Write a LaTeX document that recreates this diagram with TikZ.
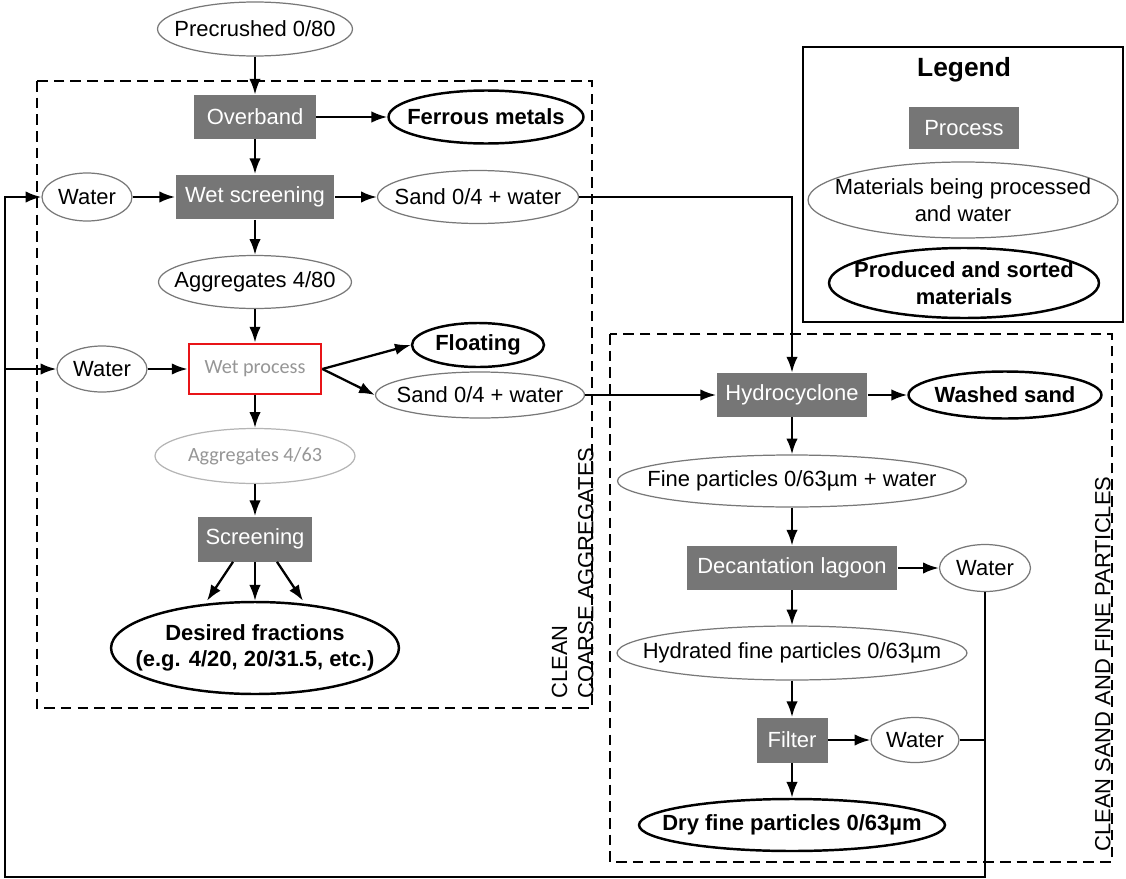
\documentclass[tikz,border=0pt]{standalone}
\usepackage{fontspec}
\setmainfont{Liberation Sans}
\newfontfamily\calibfont{Carlito}
\usetikzlibrary{arrows.meta,shapes.geometric}

\definecolor{procgray}{RGB}{118,118,118}
\definecolor{matgray}{RGB}{120,120,120}
\definecolor{fadedgray}{RGB}{150,150,150}
\definecolor{boxred}{RGB}{232,20,24}

\tikzset{
  base/.style={font=\fontsize{12.5}{15}\selectfont, align=center},
  proc/.style={base, rectangle, fill=procgray, text=white, inner sep=0pt},
  mat/.style={base, ellipse, draw=matgray, line width=0.7pt, fill=white,
    inner xsep=-1.5em, inner ysep=0pt},
  prod/.style={mat, draw=black, line width=1.4pt,
    font=\fontsize{12.5}{15}\selectfont\bfseries},
  arr/.style={-{Latex[length=9pt,width=6.5pt]}, line width=1.3pt},
  zone/.style={dash pattern=on 6pt off 3.5pt, line width=1.2pt},
}

\begin{document}
\begin{tikzpicture}[x=0.02cm,y=-0.02cm]
  % Coordinates are pixels of the layout, y pointing down.
  \useasboundingbox (0,0) rectangle (1126,879);

  % Zones.
  \draw[zone] (37,81) rectangle (592,708);
  \draw[zone] (610,334) rectangle (1112,862);
  \node[base,rotate=90,anchor=south west,inner sep=0pt,align=left] (lblcoarse)
    at (594,699) {CLEAN\\COARSE AGGREGATES};
  \node[base,rotate=90,anchor=south west,inner sep=0pt] (lblsand)
    at (1111,852) {CLEAN SAND AND FINE PARTICLES};

  % Legend.
  \draw[line width=1.3pt] (803,47) rectangle (1123,322);
  \node[base,font=\fontsize{15}{18}\selectfont\bfseries] (legtitle) at (964,70) {Legend};
  \node[proc,minimum width=2.2cm,minimum height=0.84cm] (lproc) at (964,128) {Process};
  \node[mat,minimum width=6.2cm,minimum height=1.52cm] (lmat) at (963,200)
    {Materials being processed\\and water};
  \node[prod,minimum width=5.4cm,minimum height=1.4cm] (lprod) at (964,283)
    {Produced and sorted\\materials};

  % Coarse aggregates line.
  \node[mat,minimum width=3.9cm,minimum height=1.08cm] (pre) at (255,29) {Precrushed 0/80};
  \node[proc,minimum width=2.44cm,minimum height=0.88cm] (over) at (255,117) {Overband};
  \node[prod,minimum width=3.9cm,minimum height=1.06cm] (ferr) at (486,117) {Ferrous metals};
  \node[mat,minimum width=1.8cm,minimum height=0.96cm] (water1) at (87,197) {Water};
  \node[proc,minimum width=3.18cm,minimum height=0.9cm] (wscr) at (255,197) {Wet screening};
  \node[mat,minimum width=4.02cm,minimum height=1.06cm] (sand1) at (478,197) {Sand 0/4 + water};
  \node[mat,minimum width=3.86cm,minimum height=1.06cm] (agg80) at (255,282) {Aggregates 4/80};
  \node[mat,minimum width=1.8cm,minimum height=0.92cm] (water2) at (102,369) {Water};
  \node[base,rectangle,draw=boxred,line width=1.6pt,fill=white,text=fadedgray,inner sep=0pt,
    font=\calibfont\fontsize{11.5}{14}\selectfont,minimum width=2.64cm,minimum height=1cm]
    (wproc) at (255,369) {Wet process};
  \node[prod,minimum width=2.64cm,minimum height=0.88cm] (float) at (478,345) {Floating};
  \node[mat,minimum width=4.18cm,minimum height=0.92cm] (sand2) at (480,395) {Sand 0/4 + water};
  \node[mat,draw=fadedgray!70,text=fadedgray,font=\calibfont\fontsize{11.5}{14}\selectfont,
    minimum width=4cm,minimum height=1.1cm] (agg63) at (255,456) {Aggregates 4/63};
  \node[proc,minimum width=2.28cm,minimum height=0.9cm] (scr) at (255,539) {Screening};
  \node[prod,minimum width=5.76cm,minimum height=1.84cm] (frac) at (255,648)
    {Desired fractions\\(e.g. 4/20, 20/31.5, etc.)};

  % Sand and fine particles line.
  \node[proc,minimum width=3.02cm,minimum height=0.88cm] (hydro) at (792,395) {Hydrocyclone};
  \node[prod,minimum width=3.86cm,minimum height=0.94cm] (wsand) at (1005,395) {Washed sand};
  \node[mat,minimum width=6.98cm,minimum height=1.04cm] (fine) at (792,481)
    {Fine particles 0/63µm + water};
  \node[proc,minimum width=4.22cm,minimum height=0.88cm] (decant) at (792,568) {Decantation lagoon};
  \node[mat,minimum width=1.82cm,minimum height=0.94cm] (water3) at (985,568) {Water};
  \node[mat,minimum width=7cm,minimum height=1.08cm] (hydr) at (792,653)
    {Hydrated fine particles 0/63µm};
  \node[proc,minimum width=1.42cm,minimum height=0.9cm] (filt) at (792,740) {Filter};
  \node[mat,minimum width=1.76cm,minimum height=0.9cm] (water4) at (915,740) {Water};
  \node[prod,minimum width=6.12cm,minimum height=1.04cm] (dry) at (792,825)
    {Dry fine particles 0/63µm};

  % Flows, coarse side.
  \draw[arr] (pre) -- (over);
  \draw[arr] (over) -- (ferr);
  \draw[arr] (over) -- (wscr);
  \draw[arr] (water1) -- (wscr);
  \draw[arr] (wscr) -- (sand1);
  \draw[arr] (wscr) -- (agg80);
  \draw[arr] (agg80) -- (wproc);
  \draw[arr] (water2) -- (wproc);
  \draw[arr] (wproc.east) -- (float.west);
  \draw[arr] (wproc.east) -- (sand2.west);
  \draw[arr] (wproc) -- (agg63);
  \draw[arr] (agg63) -- (scr);
  \foreach \s/\e in {-0.44/-0.96, 0/0, 0.44/0.96}
    \draw[arr] ([xshift=\s cm]scr.south) -- ([xshift=\e cm]frac.north);

  % Sand to the hydrocyclone.
  \draw[arr] (sand1.east) -| (hydro.north);
  \draw[arr] (sand2) -- (hydro);

  % Flows, fine side.
  \draw[arr] (hydro) -- (wsand);
  \draw[arr] (hydro) -- (fine);
  \draw[arr] (fine) -- (decant);
  \draw[arr] (decant) -- (water3);
  \draw[arr] (decant) -- (hydr);
  \draw[arr] (hydr) -- (filt);
  \draw[arr] (filt) -- (water4);
  \draw[arr] (filt) -- (dry);

  % Water sent back.
  \coordinate (backL) at (5,877);
  \draw[line width=1.3pt] (water4.east) -- (water3.south |- water4.east);
  \draw[arr] (water3.south) |- (backL) |- (water1.west);
  \draw[arr] (backL |- water2.west) -- (water2.west);
\end{tikzpicture}
\end{document}
